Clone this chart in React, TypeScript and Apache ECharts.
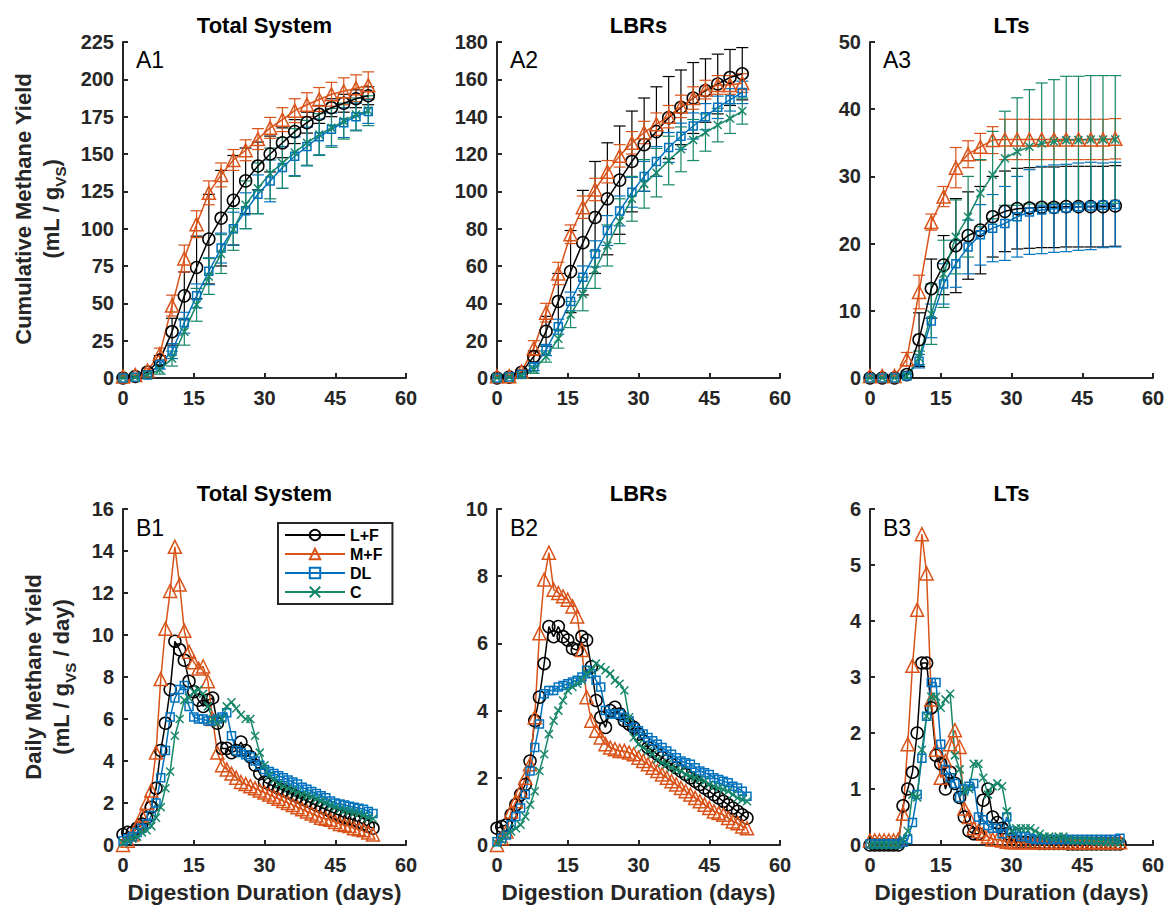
import React, { useEffect, useRef } from "react";
import * as echarts from "echarts";

const FONT = '"Liberation Sans", Arial, Helvetica, sans-serif';
const AXIS_COLOR = "#262626";

const SERIES_NAMES = ["L+F", "M+F", "DL", "C"];
const COLORS: Record<string, string> = { "L+F": "#000000", "M+F": "#D95319", DL: "#0072BD", C: "#17876A" };
const SYMBOLS: Record<string, string> = {
  "L+F": "circle",
  "M+F": "triangle",
  DL: "rect",
  C: "path://M0,0L10,10M10,0L0,10",
};
const SYMBOL_SIZES: Record<string, number> = { "L+F": 12, "M+F": 13, DL: 8, C: 8 };

const PANEL_TITLES = ["Total System", "LBRs", "LTs", "Total System", "LBRs", "LTs"];
const PANEL_TAGS = ["A1", "A2", "A3", "B1", "B2", "B3"];
const Y_MAX = [225, 180, 50, 16, 10, 6];
const Y_INTERVAL = [25, 20, 10, 2, 2, 1];
const X_TICKS = { min: 0, max: 60, interval: 15 };
const X_LABEL = "Digestion Duration (days)";

// Cumulative yield sampling days (top row)
const cumDays = [0, 2.6, 5.2, 7.8, 10.4, 13, 15.6, 18.2, 20.8, 23.4, 26, 28.6, 31.2, 33.8, 36.4, 39, 41.6, 44.2, 46.8, 49.4, 52];

// A1 Total System cumulative
const a1LF = [0, 1, 4, 12, 31, 55, 74, 93, 107, 119, 132, 142, 150, 157.5, 165, 171, 176.5, 181, 184, 187, 189];
const a1MF = [1, 2, 5, 16, 48.5, 80, 103, 124, 136, 146, 152.5, 160, 167.5, 173, 179, 183, 186.5, 190, 192, 194, 196];
const a1DL = [0, 0.5, 2, 9, 18, 37, 55, 71.5, 87, 100, 112, 123, 132, 141, 148.5, 155, 161.5, 166.5, 171, 175, 178.5];
const a1C = [0, 0.5, 2, 5.6, 13, 31, 49, 68, 83, 99.5, 116, 127, 137, 144, 151, 157.5, 163, 167.5, 172, 176.5, 179];
const a1LFerr = [0, 0.5, 1, 3, 9, 16, 21, 30, 32, 30, 22, 16, 12, 10, 8, 7, 6, 6, 6, 6, 6];
const a1MFerr = [0.5, 1, 1.5, 4, 7, 9, 9, 8, 8, 7, 7, 7, 7, 8, 8, 8, 8, 8, 9, 9, 9];
const a1DLerr = [0, 0.5, 1, 3, 5, 7, 8, 9, 10, 11, 12, 13, 14, 14, 13, 13, 12, 11, 10, 9, 8];
const a1Cerr = [0, 0.5, 1, 3, 5, 9, 11, 12, 13, 14, 16, 17, 17, 17, 16, 15, 14, 13, 12, 11, 10];

// A2 LBRs cumulative
const a2LF = [0, 0.5, 3, 11.5, 25, 41, 57, 72.5, 86, 96, 106, 116, 125, 132, 139.5, 145, 150, 154, 157.5, 161, 163];
const a2MF = [1, 1, 3.5, 16, 35, 56, 77, 91.5, 101, 110.5, 119, 126, 131.5, 136, 140, 145.5, 150, 154.5, 157, 157, 158];
const a2DL = [0, 0.5, 2, 6, 15, 27.5, 41, 54, 66.5, 79, 89.5, 99.5, 108, 116, 123.5, 129.5, 135, 140, 145, 149, 153];
const a2C = [0, 0.5, 1.5, 4.5, 11.5, 21, 34, 45, 58, 71, 84, 96, 104, 110, 116.5, 122.5, 127.5, 131.5, 135.5, 139, 143];
const a2LFerr = [0, 0.5, 1, 3, 8, 15, 22, 28, 30, 30, 29, 27, 25, 24, 22, 20, 19, 17, 16, 15, 14];
const a2MFerr = [0.5, 1, 1, 4, 5, 6, 5, 6, 6, 6, 6, 6, 6, 6, 6, 6, 6, 5, 5, 5, 5];
const a2DLerr = [0, 0.5, 1, 2, 3, 4, 5, 6, 7, 8, 8, 8, 8, 8, 8, 7, 7, 7, 6, 6, 6];
const a2Cerr = [0, 0.5, 1, 2, 3, 5, 7, 9, 10, 11, 12, 12, 13, 13, 13, 12, 11, 10, 9, 8, 7];

// A3 LTs cumulative
const a3LF = [0, 0, 0, 0.5, 5.7, 13.3, 16.8, 19.7, 21.2, 22, 24, 24.8, 25.2, 25.3, 25.4, 25.4, 25.5, 25.5, 25.5, 25.5, 25.6];
const a3MF = [0.3, 0.3, 0.3, 2.8, 12.8, 23.2, 27, 31.3, 33.3, 34.4, 35.4, 35.5, 35.5, 35.5, 35.5, 35.5, 35.5, 35.5, 35.5, 35.5, 35.6];
const a3DL = [0, 0, 0, 0.3, 2.5, 8.5, 14, 17, 19.5, 21.3, 22.3, 23, 24, 24.7, 25, 25.2, 25.3, 25.5, 25.6, 25.7, 25.8];
const a3C = [0, 0, 0, 0.3, 3, 9.5, 15.5, 21, 24, 27.5, 30.2, 32.7, 33.7, 34.4, 34.9, 35.2, 35.4, 35.4, 35.5, 35.5, 35.5];
const a3LFerr = [0, 0, 0, 0.5, 4, 4.4, 4.4, 7, 6.5, 6.5, 6, 6, 6, 6, 6, 6, 6, 6, 6, 6, 6];
const a3MFerr = [0.2, 0.2, 0.2, 1, 2.5, 1.2, 1.5, 3, 2, 2, 2, 3, 3, 3, 3, 3, 3, 3, 3, 3, 3];
const a3DLerr = [0, 0, 0, 0.3, 1, 2.5, 3, 3.5, 4, 4.5, 5, 5.5, 6, 6.3, 6.5, 6.5, 6.5, 6.5, 6.5, 6.3, 6.3];
const a3Cerr = [0, 0, 0, 0.3, 1, 4.5, 5, 5.5, 6, 5, 6.5, 7, 8, 8.5, 9, 9.2, 9.5, 9.5, 9.5, 9.5, 9.5];

// Daily yield sampling days (bottom row)
const dailyDays = [0, 1, 2, 3, 4, 5, 6, 7, 8, 9, 10, 11, 12, 13, 14, 15, 16, 17, 18, 19, 20, 21, 22, 23, 24, 25, 26, 27, 28, 29, 30, 31, 32, 33, 34, 35, 36, 37, 38, 39, 40, 41, 42, 43, 44, 45, 46, 47, 48, 49, 50, 51, 52, 53];

// B1 Total System daily
const b1LF = [0.5, 0.6, 0.6, 0.8, 1.0, 1.3, 1.8, 2.7, 4.5, 5.8, 7.4, 9.7, 9.3, 8.8, 7.8, 7.3, 6.9, 6.6, 6.9, 7.0, 5.8, 4.6, 4.6, 4.4, 4.5, 4.9, 4.5, 4.2, 3.8, 3.4, 3.0, 2.9, 2.8, 2.7, 2.6, 2.5, 2.4, 2.3, 2.2, 2.1, 2.0, 1.9, 1.8, 1.7, 1.6, 1.5, 1.4, 1.3, 1.25, 1.2, 1.1, 1.0, 0.9, 0.8];
const b1MF = [0, 0.2, 0.5, 0.9, 1.4, 2.0, 2.6, 4.4, 7.9, 10.3, 12.1, 14.2, 12.4, 10.2, 9.2, 8.7, 8.4, 8.5, 7.8, 6.0, 4.4, 3.8, 3.6, 3.4, 3.2, 3.0, 2.9, 2.8, 2.7, 2.6, 2.5, 2.4, 2.3, 2.2, 2.1, 2.0, 1.9, 1.8, 1.7, 1.6, 1.5, 1.4, 1.3, 1.25, 1.2, 1.1, 1.0, 0.95, 0.9, 0.8, 0.75, 0.7, 0.6, 0.5];
const b1DL = [0.2, 0.3, 0.4, 0.6, 0.8, 1.0, 1.4, 2.0, 3.2, 4.5, 6.1, 7.0, 7.4, 7.6, 6.6, 6.1, 6.0, 6.0, 5.9, 5.9, 6.0, 6.1, 6.3, 5.2, 4.5, 4.4, 4.3, 4.2, 4.0, 3.8, 3.6, 3.5, 3.4, 3.3, 3.2, 3.1, 3.0, 2.9, 2.75, 2.65, 2.55, 2.45, 2.35, 2.25, 2.1, 2.0, 1.95, 1.9, 1.85, 1.8, 1.75, 1.7, 1.6, 1.5];
const b1C = [0.1, 0.2, 0.3, 0.4, 0.6, 0.7, 0.9, 1.3, 1.8, 2.7, 3.5, 5.2, 6.0, 6.9, 7.0, 7.3, 7.4, 7.2, 6.6, 6.0, 5.8, 6.0, 6.6, 6.8, 6.5, 6.2, 6.0, 6.0, 5.2, 4.4, 3.8, 3.3, 3.1, 2.9, 2.8, 2.7, 2.6, 2.5, 2.4, 2.35, 2.3, 2.2, 2.1, 2.0, 1.9, 1.8, 1.7, 1.65, 1.6, 1.55, 1.5, 1.4, 1.3, 1.25];

// B2 LBRs daily
const b2LF = [0.5, 0.55, 0.6, 0.9, 1.2, 1.5, 1.8, 2.5, 3.7, 4.4, 5.4, 6.5, 6.2, 6.5, 6.2, 6.1, 5.85, 5.8, 6.2, 6.1, 5.3, 4.3, 3.8, 3.5, 4.0, 4.1, 3.9, 3.7, 3.6, 3.5, 3.3, 3.1, 2.9, 2.8, 2.7, 2.6, 2.5, 2.4, 2.3, 2.2, 2.1, 2.0, 1.9, 1.8, 1.7, 1.6, 1.5, 1.4, 1.3, 1.2, 1.1, 1.0, 0.9, 0.8];
const b2MF = [0, 0.2, 0.4, 1.0, 1.3, 1.6, 2.0, 2.4, 3.8, 6.3, 7.9, 8.7, 7.6, 7.5, 7.4, 7.3, 7.1, 6.8, 5.8, 4.4, 3.7, 3.4, 3.2, 3.0, 2.9, 2.85, 2.8, 2.8, 2.75, 2.7, 2.6, 2.5, 2.4, 2.3, 2.2, 2.1, 2.0, 1.9, 1.8, 1.7, 1.6, 1.5, 1.4, 1.3, 1.2, 1.1, 1.0, 0.95, 0.9, 0.8, 0.7, 0.65, 0.55, 0.5];
const b2DL = [0.1, 0.2, 0.3, 0.6, 0.85, 1.1, 1.5, 2.2, 2.9, 3.6, 4.5, 4.6, 4.6, 4.7, 4.75, 4.8, 4.85, 4.9, 5.0, 5.2, 5.1, 4.9, 4.7, 4.0, 3.9, 3.9, 3.9, 3.8, 3.7, 3.5, 3.4, 3.3, 3.2, 3.1, 3.0, 2.9, 2.8, 2.7, 2.6, 2.5, 2.45, 2.4, 2.3, 2.2, 2.15, 2.1, 2.0, 1.95, 1.9, 1.85, 1.75, 1.7, 1.6, 1.45];
const b2C = [0.05, 0.15, 0.3, 0.4, 0.5, 0.6, 0.85, 1.2, 1.6, 2.2, 2.7, 3.3, 3.7, 4.0, 4.3, 4.6, 4.7, 4.8, 4.9, 5.1, 5.2, 5.4, 5.3, 5.2, 5.1, 4.9, 4.8, 4.6, 3.8, 3.2, 3.0, 2.9, 2.8, 2.7, 2.55, 2.45, 2.4, 2.3, 2.25, 2.2, 2.1, 2.05, 2.0, 1.95, 1.9, 1.8, 1.75, 1.7, 1.65, 1.6, 1.5, 1.4, 1.35, 1.3];

// B3 LTs daily
const b3LF = [0, 0, 0, 0, 0, 0, 0, 0.7, 1.0, 1.3, 2.0, 3.25, 3.25, 2.45, 1.6, 1.45, 1.0, 1.3, 1.1, 0.85, 0.5, 0.25, 0.2, 0.2, 0.8, 1.0, 0.5, 0.4, 0.3, 0.2, 0.1, 0.05, 0.05, 0.05, 0.04, 0.04, 0.03, 0.03, 0.03, 0.03, 0.03, 0.03, 0.02, 0.02, 0.02, 0.02, 0.02, 0.02, 0.02, 0.02, 0.02, 0.02, 0.02, 0.02];
const b3MF = [0.08, 0.08, 0.08, 0.08, 0.08, 0.08, 0.1, 0.56, 1.8, 3.2, 4.2, 5.55, 4.85, 2.6, 1.7, 1.2, 1.5, 1.8, 2.05, 1.75, 0.65, 0.5, 0.3, 0.25, 0.2, 0.15, 0.1, 0.1, 0.08, 0.06, 0.05, 0.05, 0.05, 0.05, 0.05, 0.05, 0.05, 0.05, 0.05, 0.05, 0.05, 0.05, 0.05, 0.05, 0.05, 0.05, 0.05, 0.05, 0.05, 0.05, 0.05, 0.05, 0.05, 0.05];
const b3DL = [0.02, 0.02, 0.02, 0.02, 0.02, 0.02, 0.02, 0.05, 0.1, 0.4, 0.9, 1.55, 2.3, 2.9, 2.9, 1.8, 1.35, 1.2, 1.1, 0.85, 1.0, 1.05, 1.1, 0.5, 0.45, 0.35, 0.3, 0.3, 0.2, 0.5, 0.25, 0.2, 0.15, 0.15, 0.12, 0.1, 0.1, 0.1, 0.1, 0.1, 0.1, 0.1, 0.1, 0.1, 0.1, 0.1, 0.1, 0.1, 0.1, 0.1, 0.1, 0.1, 0.1, 0.12];
const b3C = [0, 0, 0, 0, 0, 0, 0, 0.1, 0.25, 0.9, 0.85, 1.7, 2.3, 2.65, 2.65, 2.45, 2.6, 2.7, 1.6, 1.35, 0.95, 1.0, 1.45, 1.45, 1.2, 0.9, 1.05, 1.1, 1.05, 0.6, 0.25, 0.3, 0.3, 0.3, 0.3, 0.25, 0.2, 0.15, 0.15, 0.12, 0.15, 0.15, 0.1, 0.08, 0.08, 0.08, 0.08, 0.07, 0.06, 0.06, 0.05, 0.05, 0.05, 0.05];

const TOP_PANELS = [
  { values: [a1LF, a1MF, a1DL, a1C], errs: [a1LFerr, a1MFerr, a1DLerr, a1Cerr] },
  { values: [a2LF, a2MF, a2DL, a2C], errs: [a2LFerr, a2MFerr, a2DLerr, a2Cerr] },
  { values: [a3LF, a3MF, a3DL, a3C], errs: [a3LFerr, a3MFerr, a3DLerr, a3Cerr] },
];
const BOTTOM_PANELS = [
  [b1LF, b1MF, b1DL, b1C],
  [b2LF, b2MF, b2DL, b2C],
  [b3LF, b3MF, b3DL, b3C],
];

// Layout (pixels)
const GRID_LEFTS = [123, 497, 870];
const GRID_WIDTH = 283;
const ROW_TOPS = [42, 509];
const GRID_HEIGHT = 336;
const TITLE_Y = [25, 493];
const TAG_Y = [60, 528];

function buildOption() {
  const grids: any[] = [];
  const xAxes: any[] = [];
  const yAxes: any[] = [];
  const lineSeries: any[] = [];
  const errSeries: any[] = [];
  const graphics: any[] = [];

  const labelStyle = { color: AXIS_COLOR, fontSize: 20, fontWeight: "bold", fontFamily: FONT };

  for (let p = 0; p < 6; p++) {
    const row = p < 3 ? 0 : 1;
    const col = p % 3;
    grids.push({
      left: GRID_LEFTS[col],
      top: ROW_TOPS[row],
      width: GRID_WIDTH,
      height: GRID_HEIGHT,
      containLabel: false,
      outerBoundsMode: "none",
    });
    xAxes.push({
      type: "value",
      gridIndex: p,
      min: X_TICKS.min,
      max: X_TICKS.max,
      interval: X_TICKS.interval,
      axisLine: { onZero: false, lineStyle: { color: AXIS_COLOR, width: 2 } },
      axisTick: { inside: true, length: 5, lineStyle: { color: AXIS_COLOR, width: 2 } },
      axisLabel: { ...labelStyle, margin: 10 },
      splitLine: { show: false },
      name: row === 1 ? X_LABEL : "",
      nameLocation: "middle",
      nameGap: 36,
      nameTextStyle: { color: AXIS_COLOR, fontSize: 22.5, fontWeight: "bold", fontFamily: FONT },
    });
    yAxes.push({
      type: "value",
      gridIndex: p,
      min: 0,
      max: Y_MAX[p],
      interval: Y_INTERVAL[p],
      axisLine: { show: true, onZero: false, lineStyle: { color: AXIS_COLOR, width: 2 } },
      axisTick: { show: true, inside: true, length: 5, lineStyle: { color: AXIS_COLOR, width: 2 } },
      axisLabel: { ...labelStyle, margin: 9 },
      splitLine: { show: false },
    });

    graphics.push({
      type: "text",
      x: GRID_LEFTS[col] + GRID_WIDTH / 2,
      y: TITLE_Y[row],
      style: {
        text: PANEL_TITLES[p],
        align: "center",
        verticalAlign: "middle",
        fontSize: 22,
        fontWeight: "bold",
        fontFamily: FONT,
        fill: "#000",
      },
    });
    graphics.push({
      type: "text",
      x: GRID_LEFTS[col] + 13,
      y: TAG_Y[row],
      style: {
        text: PANEL_TAGS[p],
        align: "left",
        verticalAlign: "middle",
        fontSize: 23,
        fontWeight: "normal",
        fontFamily: FONT,
        fill: "#000",
      },
    });
  }

  const mkLine = (name: string, p: number, xs: number[], ys: number[]) => ({
    type: "line",
    name,
    xAxisIndex: p,
    yAxisIndex: p,
    data: xs.map((x, i) => [x, ys[i]]),
    symbol: SYMBOLS[name],
    symbolSize: SYMBOL_SIZES[name],
    showAllSymbol: true,
    lineStyle: { color: COLORS[name], width: 1.5 },
    itemStyle: { color: "none", borderColor: COLORS[name], borderWidth: 1.5 },
    emphasis: { disabled: true },
    clip: false,
    z: 3,
  });

  // Bottom row first so legend (in B1) uses line series icons
  BOTTOM_PANELS.forEach((vals, col) => {
    SERIES_NAMES.forEach((name, k) => lineSeries.push(mkLine(name, 3 + col, dailyDays, vals[k])));
  });
  TOP_PANELS.forEach((panel, col) => {
    SERIES_NAMES.forEach((name, k) => {
      lineSeries.push(mkLine(name, col, cumDays, panel.values[k]));
      const color = COLORS[name];
      errSeries.push({
        type: "custom",
        name,
        xAxisIndex: col,
        yAxisIndex: col,
        silent: true,
        z: 2,
        clip: false,
        encode: { x: 0, y: 1 },
        data: cumDays.map((d, i) => [d, panel.values[k][i], panel.errs[k][i]]),
        renderItem: (params: any, api: any) => {
          const x = api.value(0);
          const y = api.value(1);
          const e = api.value(2);
          const top = api.coord([x, y + e]);
          const bot = api.coord([x, y - e]);
          const w = 6;
          const st = { stroke: color, lineWidth: 1.2, fill: "none" };
          return {
            type: "group",
            children: [
              { type: "line", shape: { x1: top[0], y1: top[1], x2: bot[0], y2: bot[1] }, style: st },
              { type: "line", shape: { x1: top[0] - w, y1: top[1], x2: top[0] + w, y2: top[1] }, style: st },
              { type: "line", shape: { x1: bot[0] - w, y1: bot[1], x2: bot[0] + w, y2: bot[1] }, style: st },
            ],
          };
        },
      });
    });
  });

  // Y axis labels (rotated)
  const yLabels = [
    { x1: 23, x2: 52, y: 209, l1: "Cumulative Methane Yield", l2: "{n|(mL / g}{s|VS}{n|)}" },
    { x1: 33, x2: 62, y: 677, l1: "Daily Methane Yield", l2: "{n|(mL / g}{s|VS}{n| / day)}" },
  ];
  yLabels.forEach((yl) => {
    graphics.push({
      type: "text",
      x: yl.x1,
      y: yl.y,
      rotation: Math.PI / 2,
      style: {
        text: yl.l1,
        align: "center",
        verticalAlign: "middle",
        fontSize: 22,
        fontWeight: "bold",
        fontFamily: FONT,
        fill: AXIS_COLOR,
      },
    });
    graphics.push({
      type: "text",
      x: yl.x2,
      y: yl.y,
      rotation: Math.PI / 2,
      style: {
        text: yl.l2,
        align: "center",
        verticalAlign: "middle",
        rich: {
          n: { fontSize: 22, fontWeight: "bold", fontFamily: FONT, fill: AXIS_COLOR, verticalAlign: "top", lineHeight: 24 },
          s: { fontSize: 15, fontWeight: "bold", fontFamily: FONT, fill: AXIS_COLOR, verticalAlign: "top", lineHeight: 16, padding: [13, 0, 0, 0] },
        },
      },
    });
  });

  return {
    animation: false,
    backgroundColor: "#ffffff",
    textStyle: { fontFamily: FONT },
    grid: grids,
    xAxis: xAxes,
    yAxis: yAxes,
    legend: {
      data: SERIES_NAMES,
      orient: "vertical",
      left: 278,
      top: 523,
      itemWidth: 60,
      itemHeight: 13,
      itemGap: 3,
      padding: [4, 10, 4, 6],
      borderColor: AXIS_COLOR,
      borderWidth: 2,
      backgroundColor: "#ffffff",
      selectedMode: false,
      textStyle: { fontSize: 16, fontWeight: "bold", color: "#000", fontFamily: FONT },
    },
    series: [...lineSeries, ...errSeries],
    graphic: graphics,
  };
}

export default function App() {
  const ref = useRef<HTMLDivElement>(null);
  useEffect(() => {
    document.body.style.margin = "0";
    if (!ref.current) return;
    const chart = echarts.init(ref.current, undefined, { renderer: "svg" });
    chart.setOption(buildOption() as any);
    return () => chart.dispose();
  }, []);
  return <div ref={ref} style={{ width: 1167, height: 906 }} />;
}
